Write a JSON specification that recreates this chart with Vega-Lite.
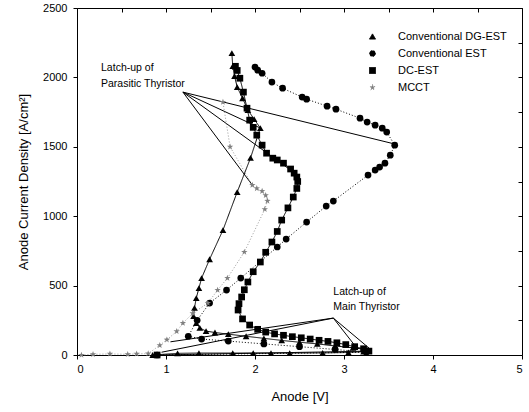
{
  "$schema": "https://vega.github.io/schema/vega-lite/v6.json",
  "width": 445,
  "height": 347,
  "autosize": {"type": "none"},
  "padding": {"left": 77, "top": 8, "right": 7, "bottom": 57},
  "background": "white",
  "datasets": {
    "curves": [
      {"series": "Conventional DG-EST", "k": 0, "V": 0.85, "J": 0},
      {"series": "Conventional DG-EST", "k": 1, "V": 1.13, "J": 12},
      {"series": "Conventional DG-EST", "k": 2, "V": 1.37, "J": 14},
      {"series": "Conventional DG-EST", "k": 3, "V": 1.75, "J": 14},
      {"series": "Conventional DG-EST", "k": 4, "V": 1.98, "J": 14},
      {"series": "Conventional DG-EST", "k": 5, "V": 2.18, "J": 14},
      {"series": "Conventional DG-EST", "k": 6, "V": 2.39, "J": 14},
      {"series": "Conventional DG-EST", "k": 7, "V": 2.76, "J": 15},
      {"series": "Conventional DG-EST", "k": 8, "V": 3.05, "J": 18},
      {"series": "Conventional DG-EST", "k": 9, "V": 3.22, "J": 24},
      {"series": "Conventional DG-EST", "k": 10, "V": 3.27, "J": 38},
      {"series": "Conventional DG-EST", "k": 11, "V": 3.1, "J": 52},
      {"series": "Conventional DG-EST", "k": 12, "V": 2.9, "J": 65},
      {"series": "Conventional DG-EST", "k": 13, "V": 2.7, "J": 80},
      {"series": "Conventional DG-EST", "k": 14, "V": 2.5, "J": 92},
      {"series": "Conventional DG-EST", "k": 15, "V": 2.3, "J": 105},
      {"series": "Conventional DG-EST", "k": 16, "V": 2.1, "J": 120},
      {"series": "Conventional DG-EST", "k": 17, "V": 1.9, "J": 135},
      {"series": "Conventional DG-EST", "k": 18, "V": 1.7, "J": 150},
      {"series": "Conventional DG-EST", "k": 19, "V": 1.55, "J": 162},
      {"series": "Conventional DG-EST", "k": 20, "V": 1.45, "J": 172},
      {"series": "Conventional DG-EST", "k": 21, "V": 1.38, "J": 195},
      {"series": "Conventional DG-EST", "k": 22, "V": 1.34, "J": 230},
      {"series": "Conventional DG-EST", "k": 23, "V": 1.31, "J": 280},
      {"series": "Conventional DG-EST", "k": 24, "V": 1.32, "J": 340},
      {"series": "Conventional DG-EST", "k": 25, "V": 1.34, "J": 410},
      {"series": "Conventional DG-EST", "k": 26, "V": 1.37, "J": 482},
      {"series": "Conventional DG-EST", "k": 27, "V": 1.40, "J": 554},
      {"series": "Conventional DG-EST", "k": 28, "V": 1.49, "J": 690},
      {"series": "Conventional DG-EST", "k": 29, "V": 1.64, "J": 900},
      {"series": "Conventional DG-EST", "k": 30, "V": 1.80, "J": 1174},
      {"series": "Conventional DG-EST", "k": 31, "V": 1.95, "J": 1420},
      {"series": "Conventional DG-EST", "k": 32, "V": 2.06, "J": 1635},
      {"series": "Conventional DG-EST", "k": 33, "V": 1.99, "J": 1700},
      {"series": "Conventional DG-EST", "k": 34, "V": 1.92, "J": 1764},
      {"series": "Conventional DG-EST", "k": 35, "V": 1.86, "J": 1850},
      {"series": "Conventional DG-EST", "k": 36, "V": 1.80, "J": 1930},
      {"series": "Conventional DG-EST", "k": 37, "V": 1.77, "J": 2010},
      {"series": "Conventional DG-EST", "k": 38, "V": 1.75, "J": 2081},
      {"series": "Conventional DG-EST", "k": 39, "V": 1.74, "J": 2175},

      {"series": "Conventional EST", "k": 0, "V": 0.9, "J": 0},
      {"series": "Conventional EST", "k": 1, "V": 3.25, "J": 20},
      {"series": "Conventional EST", "k": 2, "V": 2.9, "J": 40},
      {"series": "Conventional EST", "k": 3, "V": 2.5, "J": 60},
      {"series": "Conventional EST", "k": 4, "V": 2.1, "J": 80},
      {"series": "Conventional EST", "k": 5, "V": 1.7, "J": 100},
      {"series": "Conventional EST", "k": 6, "V": 1.4, "J": 115},
      {"series": "Conventional EST", "k": 7, "V": 1.25, "J": 135},
      {"series": "Conventional EST", "k": 8, "V": 1.35, "J": 250},
      {"series": "Conventional EST", "k": 9, "V": 1.49, "J": 374},
      {"series": "Conventional EST", "k": 10, "V": 1.68, "J": 468},
      {"series": "Conventional EST", "k": 11, "V": 1.84, "J": 554},
      {"series": "Conventional EST", "k": 12, "V": 2.25, "J": 778},
      {"series": "Conventional EST", "k": 13, "V": 2.35, "J": 835},
      {"series": "Conventional EST", "k": 14, "V": 2.58, "J": 958},
      {"series": "Conventional EST", "k": 15, "V": 2.80, "J": 1073},
      {"series": "Conventional EST", "k": 16, "V": 2.88, "J": 1109},
      {"series": "Conventional EST", "k": 17, "V": 3.27, "J": 1296},
      {"series": "Conventional EST", "k": 18, "V": 3.35, "J": 1332},
      {"series": "Conventional EST", "k": 19, "V": 3.40, "J": 1354},
      {"series": "Conventional EST", "k": 20, "V": 3.46, "J": 1382},
      {"series": "Conventional EST", "k": 21, "V": 3.52, "J": 1440},
      {"series": "Conventional EST", "k": 22, "V": 3.57, "J": 1512},
      {"series": "Conventional EST", "k": 23, "V": 3.48, "J": 1606},
      {"series": "Conventional EST", "k": 24, "V": 3.43, "J": 1634},
      {"series": "Conventional EST", "k": 25, "V": 3.35, "J": 1656},
      {"series": "Conventional EST", "k": 26, "V": 3.26, "J": 1678},
      {"series": "Conventional EST", "k": 27, "V": 3.18, "J": 1706},
      {"series": "Conventional EST", "k": 28, "V": 2.91, "J": 1771},
      {"series": "Conventional EST", "k": 29, "V": 2.81, "J": 1793},
      {"series": "Conventional EST", "k": 30, "V": 2.58, "J": 1843},
      {"series": "Conventional EST", "k": 31, "V": 2.53, "J": 1858},
      {"series": "Conventional EST", "k": 32, "V": 2.31, "J": 1922},
      {"series": "Conventional EST", "k": 33, "V": 2.19, "J": 1966},
      {"series": "Conventional EST", "k": 34, "V": 2.08, "J": 2030},
      {"series": "Conventional EST", "k": 35, "V": 2.03, "J": 2052},
      {"series": "Conventional EST", "k": 36, "V": 2.00, "J": 2075},

      {"series": "DC-EST", "k": 0, "V": 0.9, "J": 0},
      {"series": "DC-EST", "k": 1, "V": 3.28, "J": 28},
      {"series": "DC-EST", "k": 2, "V": 3.22, "J": 45},
      {"series": "DC-EST", "k": 3, "V": 3.12, "J": 60},
      {"series": "DC-EST", "k": 4, "V": 3.02, "J": 75},
      {"series": "DC-EST", "k": 5, "V": 2.92, "J": 88},
      {"series": "DC-EST", "k": 6, "V": 2.82, "J": 98},
      {"series": "DC-EST", "k": 7, "V": 2.72, "J": 106},
      {"series": "DC-EST", "k": 8, "V": 2.62, "J": 115},
      {"series": "DC-EST", "k": 9, "V": 2.52, "J": 124},
      {"series": "DC-EST", "k": 10, "V": 2.42, "J": 132},
      {"series": "DC-EST", "k": 11, "V": 2.32, "J": 142},
      {"series": "DC-EST", "k": 12, "V": 2.22, "J": 152},
      {"series": "DC-EST", "k": 13, "V": 2.12, "J": 165},
      {"series": "DC-EST", "k": 14, "V": 2.03, "J": 185},
      {"series": "DC-EST", "k": 15, "V": 1.94, "J": 216},
      {"series": "DC-EST", "k": 16, "V": 1.86, "J": 260},
      {"series": "DC-EST", "k": 17, "V": 1.81, "J": 324},
      {"series": "DC-EST", "k": 18, "V": 1.82, "J": 370},
      {"series": "DC-EST", "k": 19, "V": 1.85, "J": 418},
      {"series": "DC-EST", "k": 20, "V": 1.88, "J": 470},
      {"series": "DC-EST", "k": 21, "V": 1.92, "J": 526},
      {"series": "DC-EST", "k": 22, "V": 1.98, "J": 600},
      {"series": "DC-EST", "k": 23, "V": 2.06, "J": 670},
      {"series": "DC-EST", "k": 24, "V": 2.12, "J": 740},
      {"series": "DC-EST", "k": 25, "V": 2.19, "J": 814},
      {"series": "DC-EST", "k": 26, "V": 2.25, "J": 890},
      {"series": "DC-EST", "k": 27, "V": 2.30, "J": 972},
      {"series": "DC-EST", "k": 28, "V": 2.37, "J": 1060},
      {"series": "DC-EST", "k": 29, "V": 2.43, "J": 1138},
      {"series": "DC-EST", "k": 30, "V": 2.47, "J": 1200},
      {"series": "DC-EST", "k": 31, "V": 2.48, "J": 1250},
      {"series": "DC-EST", "k": 32, "V": 2.47, "J": 1282},
      {"series": "DC-EST", "k": 33, "V": 2.44, "J": 1310},
      {"series": "DC-EST", "k": 34, "V": 2.40, "J": 1340},
      {"series": "DC-EST", "k": 35, "V": 2.32, "J": 1382},
      {"series": "DC-EST", "k": 36, "V": 2.25, "J": 1405},
      {"series": "DC-EST", "k": 37, "V": 2.20, "J": 1418},
      {"series": "DC-EST", "k": 38, "V": 2.13, "J": 1454},
      {"series": "DC-EST", "k": 39, "V": 2.08, "J": 1512},
      {"series": "DC-EST", "k": 40, "V": 2.02, "J": 1584},
      {"series": "DC-EST", "k": 41, "V": 1.98, "J": 1640},
      {"series": "DC-EST", "k": 42, "V": 1.94, "J": 1692},
      {"series": "DC-EST", "k": 43, "V": 1.91, "J": 1778},
      {"series": "DC-EST", "k": 44, "V": 1.87, "J": 1894},
      {"series": "DC-EST", "k": 45, "V": 1.83, "J": 1994},
      {"series": "DC-EST", "k": 46, "V": 1.80, "J": 2050},
      {"series": "DC-EST", "k": 47, "V": 1.78, "J": 2080},

      {"series": "MCCT", "k": 0, "V": 0.05, "J": 0},
      {"series": "MCCT", "k": 1, "V": 0.18, "J": 5},
      {"series": "MCCT", "k": 2, "V": 0.37, "J": 8},
      {"series": "MCCT", "k": 3, "V": 0.57, "J": 5},
      {"series": "MCCT", "k": 4, "V": 0.67, "J": 8},
      {"series": "MCCT", "k": 5, "V": 0.80, "J": 10},
      {"series": "MCCT", "k": 6, "V": 0.93, "J": 70},
      {"series": "MCCT", "k": 7, "V": 1.01, "J": 110},
      {"series": "MCCT", "k": 8, "V": 1.12, "J": 170},
      {"series": "MCCT", "k": 9, "V": 1.19, "J": 230},
      {"series": "MCCT", "k": 10, "V": 1.30, "J": 300},
      {"series": "MCCT", "k": 11, "V": 1.47, "J": 374},
      {"series": "MCCT", "k": 12, "V": 1.58, "J": 468},
      {"series": "MCCT", "k": 13, "V": 1.69, "J": 554},
      {"series": "MCCT", "k": 14, "V": 1.88, "J": 742},
      {"series": "MCCT", "k": 15, "V": 2.11, "J": 1050},
      {"series": "MCCT", "k": 16, "V": 2.14, "J": 1110},
      {"series": "MCCT", "k": 17, "V": 2.12, "J": 1150},
      {"series": "MCCT", "k": 18, "V": 2.08, "J": 1180},
      {"series": "MCCT", "k": 19, "V": 2.02, "J": 1200},
      {"series": "MCCT", "k": 20, "V": 1.97, "J": 1224},
      {"series": "MCCT", "k": 21, "V": 1.72, "J": 1500},
      {"series": "MCCT", "k": 22, "V": 1.64, "J": 1822}
    ],
    "leaders": [
      {"V": 1.19, "J": 1894, "V2": 3.57, "J2": 1520},
      {"V": 1.19, "J": 1894, "V2": 2.06, "J2": 1635},
      {"V": 1.19, "J": 1894, "V2": 2.47, "J2": 1300},
      {"V": 1.19, "J": 1894, "V2": 1.97, "J2": 1224},
      {"V": 2.88, "J": 266, "V2": 1.05, "J2": 95},
      {"V": 2.88, "J": 266, "V2": 0.95, "J2": 20},
      {"V": 2.88, "J": 266, "V2": 3.29, "J2": 45},
      {"V": 2.88, "J": 266, "V2": 3.12, "J2": 70}
    ],
    "notes": [
      {"V": 0.27, "J": 2066, "t": "Latch-up of"},
      {"V": 0.27, "J": 1951, "t": "Parasitic Thyristor"},
      {"V": 2.88, "J": 454, "t": "Latch-up of"},
      {"V": 2.88, "J": 346, "t": "Main Thyristor"}
    ]
  },
  "layer": [
    {
      "data": {"name": "leaders"},
      "mark": {"type": "rule", "color": "black", "strokeWidth": 1},
      "encoding": {
        "x": {"field": "V", "type": "quantitative", "scale": {"domain": [0, 5], "nice": false, "zero": false},
              "axis": {"orient": "top", "labels": false, "title": null, "values": [0, 0.5, 1, 1.5, 2, 2.5, 3, 3.5, 4, 4.5, 5], "tickSize": -4, "domain": false}},
        "y": {"field": "J", "type": "quantitative", "scale": {"domain": [0, 2500], "nice": false},
              "axis": {"orient": "right", "labels": false, "title": null, "values": [0, 250, 500, 750, 1000, 1250, 1500, 1750, 2000, 2250, 2500], "tickSize": -4, "domain": false}},
        "x2": {"field": "V2"},
        "y2": {"field": "J2"}
      }
    },
    {
      "data": {"name": "curves"},
      "mark": {"type": "line", "strokeWidth": 1},
      "encoding": {
        "x": {"field": "V", "type": "quantitative", "axis": null},
        "y": {"field": "J", "type": "quantitative", "axis": null},
        "order": {"field": "k", "type": "quantitative"},
        "detail": {"field": "series"},
        "stroke": {"field": "series", "type": "nominal", "title": null,
          "scale": {"domain": ["Conventional DG-EST", "Conventional EST", "DC-EST", "MCCT"], "range": ["#000000", "#000000", "#000000", "#999999"]},
          "legend": {"orient": "none", "legendX": 290, "legendY": 23}},
        "strokeDash": {"field": "series", "type": "nominal", "title": null,
          "scale": {"domain": ["Conventional DG-EST", "Conventional EST", "DC-EST", "MCCT"], "range": [[1, 0], [1, 2], [1, 0], [1, 2]]},
          "legend": {"orient": "none", "legendX": 290, "legendY": 23}}
      }
    },
    {
      "data": {"name": "curves"},
      "mark": {"type": "point", "filled": true, "opacity": 1, "size": 45},
      "encoding": {
        "x": {"field": "V", "type": "quantitative",
              "axis": {"orient": "bottom", "title": "Anode [V]", "values": [0, 1, 2, 3, 4, 5], "labelPadding": 4, "titlePadding": 16, "domain": false}},
        "y": {"field": "J", "type": "quantitative",
              "axis": {"orient": "left", "title": "Anode Current Density [A/cm²]", "format": "d", "values": [0, 500, 1000, 1500, 2000, 2500], "labelPadding": 6, "titlePadding": 12, "domain": false}},
        "color": {"field": "series", "type": "nominal", "title": null,
          "scale": {"domain": ["Conventional DG-EST", "Conventional EST", "DC-EST", "MCCT"], "range": ["#000000", "#000000", "#000000", "#808080"]},
          "legend": {"orient": "none", "legendX": 290, "legendY": 23}},
        "shape": {"field": "series", "type": "nominal", "title": null,
          "scale": {"domain": ["Conventional DG-EST", "Conventional EST", "DC-EST", "MCCT"],
                    "range": ["triangle-up", "circle", "square", "M0,-1L0.24,-0.33L0.95,-0.31L0.38,0.12L0.59,0.81L0,0.4L-0.59,0.81L-0.38,0.12L-0.95,-0.31L-0.24,-0.33Z"]},
          "legend": {"orient": "none", "legendX": 290, "legendY": 23}}
      }
    },
    {
      "data": {"name": "notes"},
      "mark": {"type": "text", "align": "left", "baseline": "middle", "fontSize": 10.5, "color": "black"},
      "encoding": {
        "x": {"field": "V", "type": "quantitative", "axis": null},
        "y": {"field": "J", "type": "quantitative", "axis": null},
        "text": {"field": "t"}
      }
    }
  ],
  "resolve": {"axis": {"x": "independent", "y": "independent"}},
  "config": {
    "font": "Liberation Sans",
    "view": {"stroke": "black", "strokeWidth": 1},
    "axis": {"grid": false, "domainColor": "black", "tickColor": "black", "labelColor": "black", "titleColor": "black", "titleFontWeight": "normal", "labelFontSize": 11, "titleFontSize": 13, "tickSize": 4},
    "legend": {
      "labelFontSize": 11, "labelColor": "black",
      "symbolSize": 36, "symbolStrokeWidth": 1, "rowPadding": 5, "labelOffset": 20, "padding": 0
    }
  }
}
